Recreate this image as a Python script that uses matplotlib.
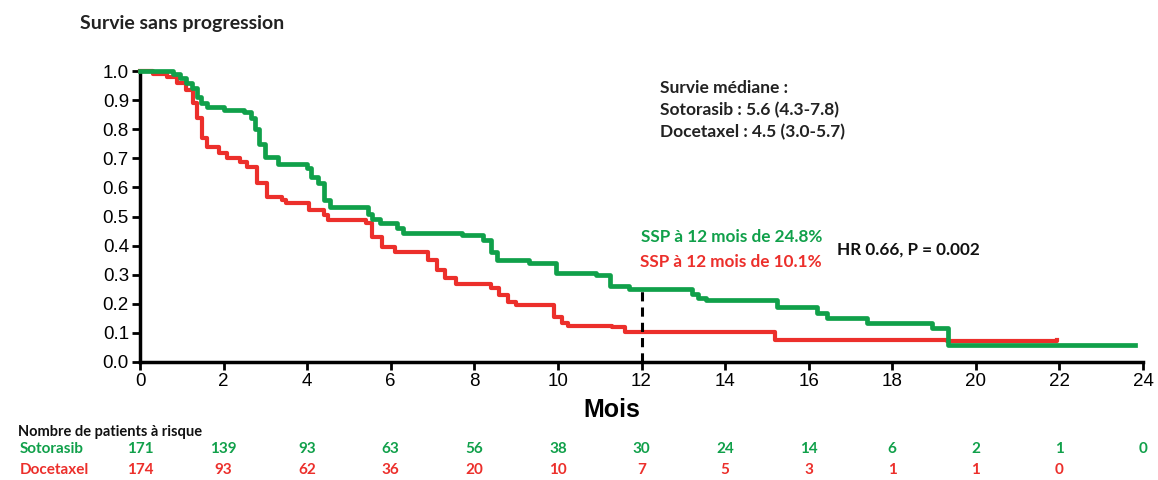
import matplotlib
matplotlib.use("Agg")
import matplotlib.pyplot as plt
from matplotlib.transforms import blended_transform_factory

# ---- data ----
soto_t = [0, 0.8, 0.95, 1.1, 1.25, 1.36, 1.45, 1.6, 2.0, 2.5, 2.65, 2.75, 2.85, 3.0, 3.3,
          4.0, 4.1, 4.25, 4.4, 4.55, 5.45, 5.55, 5.75, 6.15, 6.3, 7.7, 8.2, 8.4, 8.55, 9.3,
          9.95, 10.9, 11.25, 11.7, 13.2, 13.35, 13.55, 15.25, 16.2, 16.45, 17.4, 18.95, 19.33, 23.8]
soto_s = [1.0, 0.99, 0.975, 0.96, 0.94, 0.91, 0.89, 0.875, 0.866, 0.86, 0.84, 0.8, 0.75, 0.705, 0.68,
          0.665, 0.636, 0.615, 0.557, 0.533, 0.51, 0.49, 0.477, 0.46, 0.443, 0.437, 0.42, 0.378, 0.35, 0.34,
          0.305, 0.30, 0.26, 0.25, 0.232, 0.22, 0.213, 0.19, 0.17, 0.15, 0.134, 0.117, 0.057, 0.057]

doce_t = [0, 0.3, 0.65, 0.88, 1.1, 1.27, 1.36, 1.48, 1.6, 1.9, 2.08, 2.4, 2.55, 2.8, 3.04, 3.4, 3.5,
          4.05, 4.4, 4.5, 5.4, 5.55, 5.8, 6.1, 6.9, 7.1, 7.3, 7.55, 8.4, 8.6, 8.8, 9.0, 9.9, 10.1,
          10.25, 11.3, 11.6, 15.2, 19.3, 21.95]
doce_s = [1.0, 0.99, 0.98, 0.96, 0.935, 0.89, 0.84, 0.77, 0.74, 0.717, 0.70, 0.687, 0.67, 0.615, 0.567,
          0.557, 0.546, 0.522, 0.505, 0.488, 0.477, 0.43, 0.395, 0.378, 0.35, 0.316, 0.29, 0.267, 0.254,
          0.23, 0.206, 0.196, 0.155, 0.134, 0.125, 0.12, 0.103, 0.076, 0.073, 0.075]

risk_times = [0, 2, 4, 6, 8, 10, 12, 14, 16, 18, 20, 22, 24]
risk_soto = [171, 139, 93, 63, 56, 38, 30, 24, 14, 6, 2, 1, 0]
risk_doce = [174, 93, 62, 36, 20, 10, 7, 5, 3, 1, 1, 0]

xticks = list(range(0, 25, 2))
yticks = [0.0, 0.1, 0.2, 0.3, 0.4, 0.5, 0.6, 0.7, 0.8, 0.9, 1.0]

GREEN = "#10a04a"
RED = "#ec2f2b"
W, H = 1158, 480

fig = plt.figure(figsize=(W / 100, H / 100), dpi=100)
ax = fig.add_axes([140 / W, 1 - 362 / H, (1143 - 140) / W, (362 - 71) / H])

ax.step(doce_t, doce_s, where="post", color=RED, lw=3.0, clip_on=False, zorder=3)
ax.step(soto_t, soto_s, where="post", color=GREEN, lw=3.4, clip_on=False, zorder=4)
ax.plot([12, 12], [0, 0.25], color="black", lw=2.2, ls=(0, (3, 2)), zorder=5)

ax.set_xlim(0, 24)
ax.set_ylim(0, 1.0)
ax.set_xticks(xticks)
ax.set_yticks(yticks)
ax.set_yticklabels([f"{v:.1f}" for v in yticks])
for s in ["top", "right"]:
    ax.spines[s].set_visible(False)
for s in ["left", "bottom"]:
    ax.spines[s].set_linewidth(2.5)
ax.tick_params(width=2, length=6, labelsize=13.5, pad=2)
for lab in ax.get_xticklabels() + ax.get_yticklabels():
    lab.set_family("Liberation Sans")

TF = "Lato"
def ft(xp, yp, s, **kw):
    fig.text(xp / W, 1 - yp / H, s, family=TF, fontweight="bold", va="center", **kw)

ft(80, 24, "Survie sans progression", fontsize=14, color="#222222")
ft(660, 88, "Survie médiane :", fontsize=12.5, color="#222222")
ft(660, 110, "Sotorasib : 5.6 (4.3-7.8)", fontsize=12.5, color="#222222")
ft(660, 132, "Docetaxel : 4.5 (3.0-5.7)", fontsize=12.5, color="#222222")
ft(822, 237, "SSP à 12 mois de 24.8%", fontsize=12.3, color=GREEN, ha="right")
ft(822, 262, "SSP à 12 mois de 10.1%", fontsize=12.3, color=RED, ha="right")
ft(837, 250, "HR 0.66, P = 0.002", fontsize=12.3, color="#111111")
fig.text(612 / W, 1 - 410 / H, "Mois", family="Liberation Sans", fontweight="bold",
         fontsize=18, ha="center", va="center")

ft(18, 432, "Nombre de patients à risque", fontsize=10.5, color="#111111")
ft(20, 449, "Sotorasib", fontsize=11, color=GREEN)
ft(20, 470, "Docetaxel", fontsize=11, color=RED)

tr = blended_transform_factory(ax.transData, fig.transFigure)
for t, n in zip(risk_times, risk_soto):
    ax.text(t, 1 - 449 / H, str(n), transform=tr, ha="center", va="center",
            family=TF, fontweight="bold", fontsize=11, color=GREEN)
for t, n in zip(risk_times, risk_doce):
    ax.text(t, 1 - 470 / H, str(n), transform=tr, ha="center", va="center",
            family=TF, fontweight="bold", fontsize=11, color=RED)

fig.savefig("out.png", dpi=100)
